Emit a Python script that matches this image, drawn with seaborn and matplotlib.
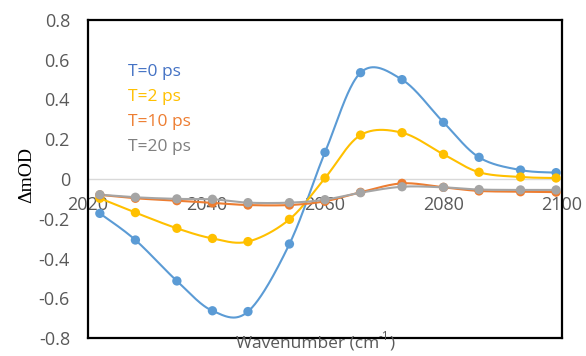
import numpy as np
import pandas as pd
import matplotlib
matplotlib.use("Agg")
import matplotlib.pyplot as plt
import seaborn as sns

# Wavenumber sampling (cm^-1)
wavenumber = [2022, 2028, 2035, 2041, 2047, 2054, 2060, 2066, 2073, 2080, 2086, 2093, 2099]

# Transient absorption (mOD) at each delay
t0_ps = [-0.173, -0.307, -0.513, -0.663, -0.667, -0.327, 0.134, 0.535, 0.500, 0.285, 0.109, 0.045, 0.032]
t2_ps = [-0.097, -0.169, -0.248, -0.299, -0.315, -0.203, 0.005, 0.221, 0.233, 0.124, 0.034, 0.010, 0.005]
t10_ps = [-0.080, -0.097, -0.109, -0.120, -0.131, -0.131, -0.112, -0.067, -0.022, -0.042, -0.060, -0.064, -0.066]
t20_ps = [-0.079, -0.092, -0.100, -0.102, -0.119, -0.119, -0.104, -0.069, -0.039, -0.042, -0.053, -0.055, -0.055]

series_labels = ["T=0 ps", "T=2 ps", "T=10 ps", "T=20 ps"]
line_colors = ["#5B9BD5", "#FFC000", "#ED7D31", "#A5A5A5"]
text_colors = ["#4472C4", "#FFC000", "#ED7D31", "#7F7F7F"]

x_ticks = [2020, 2040, 2060, 2080, 2100]
y_ticks = [-0.8, -0.6, -0.4, -0.2, 0, 0.2, 0.4, 0.6, 0.8]


def smooth(xs, ys, n=40):
    """Catmull-Rom style cubic Bezier smoothing through every point."""
    xs = np.asarray(xs, float)
    ys = np.asarray(ys, float)
    px, py = [], []
    k = len(xs)
    for i in range(k - 1):
        x0, y0 = (xs[i - 1], ys[i - 1]) if i > 0 else (xs[i], ys[i])
        x1, y1 = xs[i], ys[i]
        x2, y2 = xs[i + 1], ys[i + 1]
        x3, y3 = (xs[i + 2], ys[i + 2]) if i + 2 < k else (xs[i + 1], ys[i + 1])
        c1x, c1y = x1 + (x2 - x0) / 6, y1 + (y2 - y0) / 6
        c2x, c2y = x2 - (x3 - x1) / 6, y2 - (y3 - y1) / 6
        t = np.linspace(0, 1, n, endpoint=(i == k - 2))
        a, b, c, d = (1 - t) ** 3, 3 * (1 - t) ** 2 * t, 3 * (1 - t) * t ** 2, t ** 3
        px.append(a * x1 + b * c1x + c * c2x + d * x2)
        py.append(a * y1 + b * c1y + c * c2y + d * y2)
    return np.concatenate(px), np.concatenate(py)


sns.set_theme(style="white")
plt.rcParams["font.family"] = ["Open Sans", "DejaVu Sans"]

W, H = 586, 356
fig = plt.figure(figsize=(W / 100, H / 100), dpi=100)
ax = fig.add_axes([88 / W, 1 - 338 / H, (562 - 88) / W, (338 - 20) / H])

ax.axhline(0, color="#D9D9D9", lw=1.0, zorder=1)

for vals, lab, col in zip([t0_ps, t2_ps, t10_ps, t20_ps], series_labels, line_colors):
    sx, sy = smooth(wavenumber, vals)
    curve = pd.DataFrame({"x": sx, "y": sy})
    pts = pd.DataFrame({"x": wavenumber, "y": vals})
    sns.lineplot(data=curve, x="x", y="y", ax=ax, color=col, lw=1.5, sort=False,
                 estimator=None, zorder=3)
    sns.scatterplot(data=pts, x="x", y="y", ax=ax, color=col, s=45,
                    edgecolor="none", zorder=4)

ax.set_xlim(2020, 2100)
ax.set_ylim(-0.8, 0.8)
ax.set_yticks(y_ticks)
ax.set_yticklabels(["0" if v == 0 else f"{v:.1f}" for v in y_ticks])
ax.set_xticks(x_ticks)
ax.set_xticklabels([])
ax.set_xlabel("")
ax.set_ylabel("")
ax.tick_params(axis="y", length=0, pad=13, labelsize=13, labelcolor="#595959")
ax.tick_params(axis="x", length=0)

# x tick labels hang below the zero line, as in a spreadsheet chart
sec = ax.secondary_xaxis(0.5)
sec.set_xticks(x_ticks)
sec.set_xticklabels([str(v) for v in x_ticks])
sec.xaxis.set_ticks_position("bottom")
sec.tick_params(length=0, pad=12, labelsize=13, labelcolor="#595959",
                labelbottom=True, labeltop=False)
for sp in sec.spines.values():
    sp.set_visible(False)

for sp in ax.spines.values():
    sp.set_visible(True)
    sp.set_color("black")
    sp.set_linewidth(1.6)

for i, (lab, col) in enumerate(zip(series_labels, text_colors)):
    ax.text(128 / W, 1 - (72 + 25 * i) / H, lab, transform=fig.transFigure,
            color=col, fontsize=12.5, va="center", ha="left")

# x-axis title built from pieces so the superscript "-1" renders with a plain hyphen
fig.canvas.draw()
renderer = fig.canvas.get_renderer()
y_base = 1 - 347 / H
parts = [("Wavenumber (cm", 12.5, 0.0), ("-1", 8.5, 7.0), (")", 12.5, 0.0)]
widths = []
for txt, fs, _ in parts:
    t = fig.text(0, 0, txt, fontsize=fs)
    widths.append(t.get_window_extent(renderer).width)
    t.remove()
x_px = 315 - sum(widths) / 2
for (txt, fs, rise), w in zip(parts, widths):
    fig.text(x_px / W, y_base + rise / H, txt, color="#595959", fontsize=fs,
             ha="left", va="baseline")
    x_px += w

fig.text(27 / W, 1 - 175 / H, "ΔmOD", family=["Liberation Serif", "DejaVu Serif"],
         fontsize=14, rotation=90, ha="center", va="center", color="black")

fig.savefig("out.png", dpi=100)
